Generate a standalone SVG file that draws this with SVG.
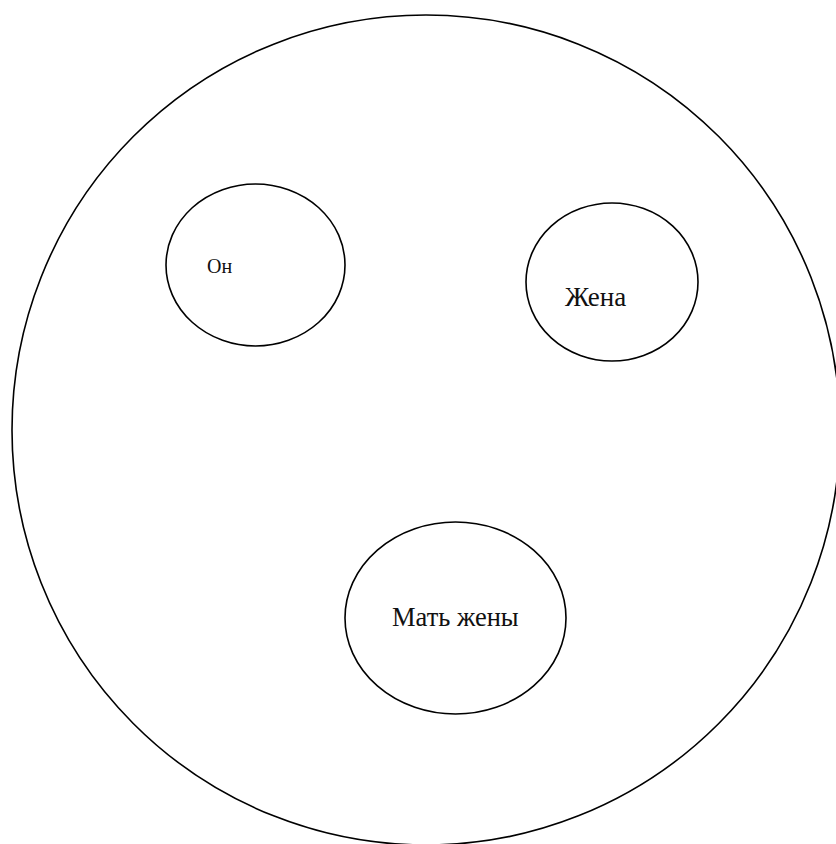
<svg xmlns="http://www.w3.org/2000/svg" width="836" height="844" viewBox="0 0 836 844">
<style>
.c{fill:none;stroke:#000;stroke-width:1.6}
.t{font-family:"Liberation Serif","Times New Roman",serif;fill:#111}
</style>
<rect width="836" height="844" fill="#fff"/>
<g id="outer"><ellipse class="c" cx="426" cy="430" rx="414" ry="415"/></g>
<g id="on"><ellipse class="c" cx="255.5" cy="265" rx="89.5" ry="81"/><text class="t" x="207" y="273" font-size="20">Он</text></g>
<g id="zhena"><ellipse class="c" cx="612" cy="282" rx="86" ry="79"/><text class="t" x="565" y="306" font-size="27">Жена</text></g>
<g id="mat"><ellipse class="c" cx="455.5" cy="618" rx="110.5" ry="96"/><text class="t" x="392" y="626" font-size="26.5">Мать жены</text></g>
<g id="connectors"/>
</svg>
